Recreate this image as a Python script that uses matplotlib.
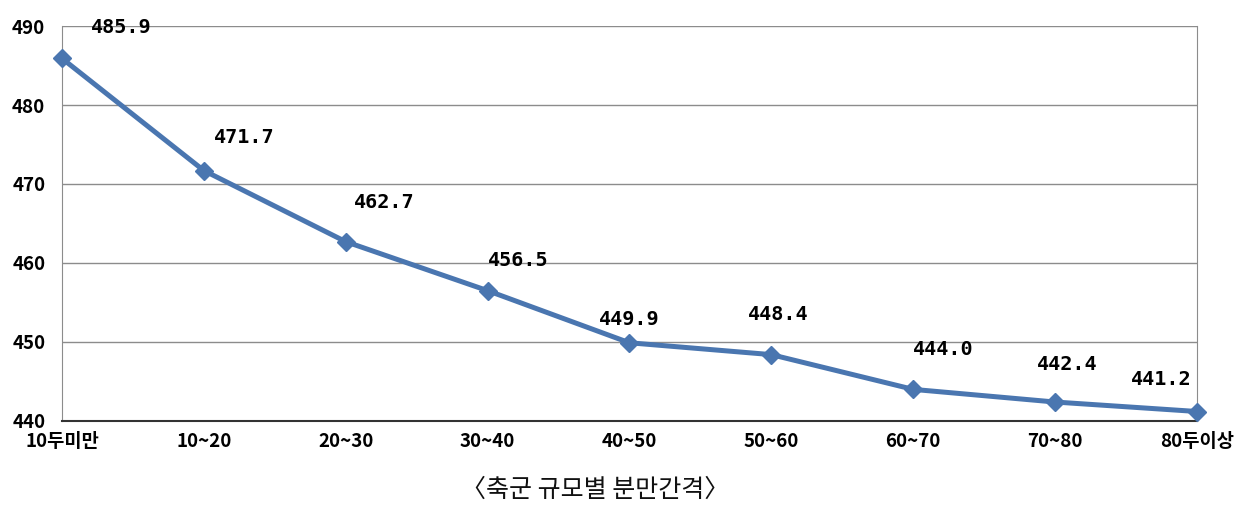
import matplotlib
matplotlib.use("Agg")
import matplotlib.pyplot as plt

plt.rcParams["font.family"] = ["Noto Sans CJK KR", "DejaVu Sans"]

# --- DATA ---
categories = ["10두미만", "10~20", "20~30", "30~40", "40~50",
              "50~60", "60~70", "70~80", "80두이상"]
calving_interval = [485.9, 471.7, 462.7, 456.5, 449.9, 448.4, 444.0, 442.4, 441.2]
y_ticks = [440, 450, 460, 470, 480, 490]

# label offsets in points (dx, dy), just styling
label_offsets = [(43, 22), (29, 24), (28, 28), (22, 22), (0, 17),
                 (5, 29), (22, 29), (9, 27), (-26, 23)]

LINE_COLOR = "#4A76B0"

fig = plt.figure(figsize=(12.52, 5.08), dpi=100)
ax = fig.add_axes([0.0495, 0.1713, 0.9065, 0.7775])

x = list(range(len(categories)))
ax.plot(x, calving_interval, color=LINE_COLOR, linewidth=3.6,
        marker="D", markersize=9.5, zorder=3, clip_on=False)

for xi, val, (dx, dy) in zip(x, calving_interval, label_offsets):
    ax.annotate(f"{val:.1f}", (xi, val), xytext=(dx, dy),
                textcoords="offset points", ha="center", va="center",
                fontsize=14.5, fontweight="bold", family="DejaVu Sans Mono")

ax.set_xlim(0, len(categories) - 1)
ax.set_ylim(440, 490)
ax.set_yticks(y_ticks)
ax.set_xticks(x)
ax.set_xticklabels(categories)
ax.grid(axis="y", color="#8c8c8c", linewidth=1)
ax.set_axisbelow(True)

for side in ["left", "right", "top"]:
    ax.spines[side].set_color("#8c8c8c")
ax.spines["top"].set_visible(False)
ax.spines["bottom"].set_color("#333333")
ax.spines["bottom"].set_linewidth(1.5)

ax.tick_params(axis="both", length=0, labelsize=13.5)
ax.tick_params(axis="y", pad=12)
ax.tick_params(axis="x", pad=8)
for lbl in ax.get_xticklabels() + ax.get_yticklabels():
    lbl.set_fontweight("bold")

fig.text(0.475, 0.035, "〈축군 규모별 분만간격〉", ha="center", va="center",
         fontsize=18, color="#111111")

fig.savefig("out.png", dpi=100)
